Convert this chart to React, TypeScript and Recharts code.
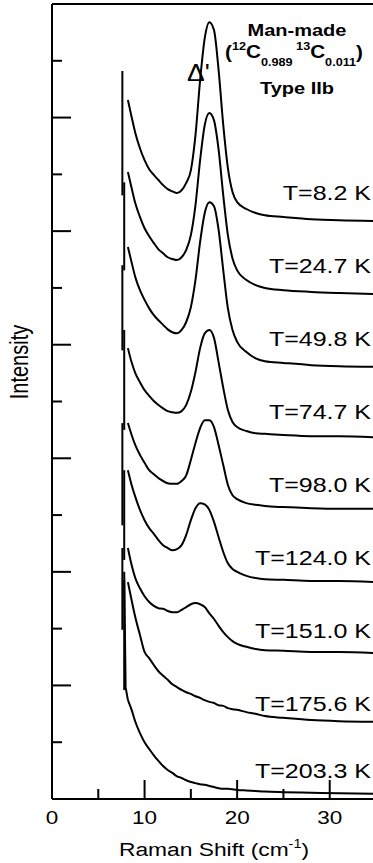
import { LineChart, Line, XAxis, YAxis, ReferenceLine } from "recharts";

// Raman shift grid (cm-1) shared by every spectrum
const ramanShift = [
  8.2, 8.6, 9.0, 9.5, 10, 10.5, 11, 11.5, 12, 12.5, 13, 13.5, 14, 14.5, 15, 15.5,
  16, 16.5, 17, 17.5, 18, 18.5, 19, 19.5, 20, 21, 22, 23, 25, 28, 31, 35,
];

// offset intensities
const spec8_2 = [12.31, 12.01, 11.73, 11.46, 11.25, 11.09, 10.99, 10.9, 10.81, 10.74, 10.7, 10.67, 10.72, 10.85, 11.07, 11.69, 12.66, 13.4, 13.68, 13.54, 12.83, 11.87, 11.11, 10.69, 10.51, 10.39, 10.32, 10.28, 10.25, 10.21, 10.19, 10.18];
const spec24_7 = [11.04, 10.76, 10.49, 10.25, 10.05, 9.91, 9.79, 9.68, 9.61, 9.54, 9.51, 9.49, 9.54, 9.67, 9.93, 10.46, 11.25, 11.87, 12.08, 11.95, 11.43, 10.63, 9.93, 9.52, 9.31, 9.14, 9.05, 9.0, 8.96, 8.93, 8.91, 8.89];
const spec49_8 = [9.72, 9.45, 9.19, 8.96, 8.79, 8.64, 8.52, 8.43, 8.35, 8.27, 8.22, 8.2, 8.26, 8.4, 8.66, 9.14, 9.81, 10.32, 10.51, 10.44, 10.02, 9.31, 8.64, 8.26, 8.05, 7.87, 7.76, 7.71, 7.68, 7.64, 7.62, 7.61];
const spec74_7 = [7.94, 7.69, 7.5, 7.34, 7.2, 7.1, 7.01, 6.94, 6.88, 6.83, 6.81, 6.8, 6.83, 6.94, 7.17, 7.52, 7.94, 8.2, 8.26, 8.12, 7.69, 7.24, 6.85, 6.64, 6.55, 6.48, 6.44, 6.43, 6.41, 6.39, 6.39, 6.37];
const spec98_0 = [6.62, 6.41, 6.23, 6.06, 5.92, 5.79, 5.72, 5.65, 5.6, 5.56, 5.55, 5.55, 5.6, 5.7, 5.97, 6.27, 6.53, 6.67, 6.67, 6.55, 6.23, 5.88, 5.53, 5.35, 5.28, 5.21, 5.18, 5.16, 5.14, 5.12, 5.11, 5.11];
const spec124_0 = [5.79, 5.53, 5.32, 5.09, 4.91, 4.77, 4.67, 4.56, 4.47, 4.42, 4.38, 4.4, 4.47, 4.65, 4.91, 5.12, 5.21, 5.19, 5.09, 4.88, 4.61, 4.35, 4.15, 4.05, 4.0, 3.93, 3.89, 3.87, 3.86, 3.84, 3.84, 3.82];
const spec151_0 = [4.42, 4.12, 3.89, 3.71, 3.57, 3.47, 3.4, 3.36, 3.35, 3.31, 3.29, 3.29, 3.33, 3.38, 3.43, 3.45, 3.43, 3.38, 3.27, 3.17, 3.05, 2.94, 2.85, 2.78, 2.73, 2.68, 2.64, 2.62, 2.61, 2.59, 2.59, 2.57];
const spec175_6 = [3.82, 3.5, 3.2, 2.89, 2.59, 2.48, 2.36, 2.25, 2.17, 2.1, 2.02, 1.97, 1.92, 1.88, 1.85, 1.81, 1.78, 1.74, 1.71, 1.69, 1.65, 1.64, 1.6, 1.58, 1.57, 1.53, 1.5, 1.46, 1.43, 1.39, 1.37, 1.36];
const spec203_3 = [1.74, 1.57, 1.36, 1.16, 1.0, 0.88, 0.77, 0.67, 0.58, 0.51, 0.46, 0.4, 0.37, 0.33, 0.3, 0.28, 0.26, 0.25, 0.23, 0.21, 0.19, 0.18, 0.18, 0.17, 0.16, 0.15, 0.14, 0.13, 0.12, 0.11, 0.1, 0.09];

const spectra = [spec8_2, spec24_7, spec49_8, spec74_7, spec98_0, spec124_0, spec151_0, spec175_6, spec203_3];
const tempLabels = ["T=8.2 K", "T=24.7 K", "T=49.8 K", "T=74.7 K", "T=98.0 K", "T=124.0 K", "T=151.0 K", "T=175.6 K", "T=203.3 K"];

// steep laser-edge part of each spectrum
const edgeShift = [
  [7.6, 7.6], [7.8, 7.8], [7.6, 7.6], [7.8, 7.8], [7.6, 7.6],
  [7.8, 7.8], [7.6, 7.6], [7.8, 7.8], [7.8, 7.95, 8.2],
];
const edgeIntensity = [
  [12.82, 10.63], [10.86, 9.31], [9.4, 7.9], [8.26, 6.5], [6.62, 4.82],
  [5.79, 4.21], [4.42, 2.98], [3.86, 1.92], [4.0, 1.97, 1.74],
];

const xTicks = [0, 5, 10, 15, 20, 25, 30, 35];
const yTicks = [0, 1, 2, 3, 4, 5, 6, 7, 8, 9, 10, 11, 12, 13, 14];

const FONT = "'Liberation Sans', Arial, Helvetica, sans-serif";
const labelBaselines = [200, 273, 346, 419, 492, 565, 638, 711, 778];

const XTick = (props: any) => {
  const { x, y, payload } = props;
  const major = payload.value % 10 === 0;
  return (
    <g>
      <line x1={x} x2={x} y1={y} y2={y - (major ? 19 : 10)} stroke="#000" strokeWidth={2} />
      {major && (
        <text transform={`translate(${x},${y + 25}) scale(1.25,1)`} textAnchor="middle" fontFamily={FONT} fontSize={18} fill="#000">
          {payload.value}
        </text>
      )}
    </g>
  );
};

const YTick = (props: any) => {
  const { x, y, payload } = props;
  if (payload.value === 0 || payload.value === 14) return <g />;
  const major = payload.value % 2 === 0;
  return <line x1={x} x2={x + (major ? 19 : 10)} y1={y} y2={y} stroke="#000" strokeWidth={2} />;
};

export default function App() {
  return (
    <div style={{ position: "absolute", left: 0, top: 0, width: 373, height: 863, background: "#fff" }}>
      <LineChart width={373} height={863} margin={{ top: 4, right: -3, left: 0, bottom: 0 }}>
        <XAxis
          dataKey="x"
          type="number"
          domain={[0, 35]}
          ticks={xTicks}
          height={64}
          tickSize={0}
          tickMargin={0}
          tickLine={false}
          axisLine={{ stroke: "#000", strokeWidth: 2 }}
          tick={(p: any) => <XTick {...p} />}
          interval={0}
        />
        <YAxis
          type="number"
          domain={[0, 14]}
          ticks={yTicks}
          width={52}
          tickSize={0}
          tickMargin={0}
          tickLine={false}
          axisLine={{ stroke: "#000", strokeWidth: 2 }}
          tick={(p: any) => <YTick {...p} />}
          interval={0}
        />
        <ReferenceLine y={14} stroke="#000" strokeWidth={2} />
        {edgeShift.map((xs, i) => (
          <Line
            key={`edge-${i}`}
            data={xs.map((x, j) => ({ x, y: edgeIntensity[i][j] }))}
            dataKey="y"
            type="linear"
            stroke="#000"
            strokeWidth={2}
            dot={false}
            isAnimationActive={false}
          />
        ))}
        {spectra.map((s, i) => (
          <Line
            key={tempLabels[i]}
            name={tempLabels[i]}
            data={ramanShift.map((x, j) => ({ x, y: s[j] }))}
            dataKey="y"
            type="monotone"
            stroke="#000"
            strokeWidth={2}
            dot={false}
            isAnimationActive={false}
          />
        ))}
      </LineChart>
      <svg width={373} height={863} style={{ position: "absolute", left: 0, top: 0, pointerEvents: "none" }}>
        <g fontFamily={FONT} fill="#000">
          {tempLabels.map((t, i) => (
            <text key={t} transform={`translate(371,${labelBaselines[i]}) scale(1.25,1)`} textAnchor="end" fontSize={20}>
              {t}
            </text>
          ))}
          <text transform="translate(214,856) scale(1.2,1)" textAnchor="middle" fontSize={19}>
            Raman Shift (cm<tspan fontSize={12} dy={-8}>-1</tspan><tspan dy={8}>)</tspan>
          </text>
          <text transform="translate(28,362) scale(1.25,1) rotate(-90)" textAnchor="middle" fontSize={20}>
            Intensity
          </text>
          <text transform="translate(187,81) scale(1.15,1)" fontSize={23}>
            Δ'
          </text>
          <text transform="translate(297,36) scale(1.25,1)" textAnchor="middle" fontSize={16} fontWeight="bold">
            Man-made
          </text>
          <text transform="translate(294,58) scale(1.15,1)" textAnchor="middle" fontWeight="bold" fontSize={18}>
            (<tspan fontSize={11} dy={-8}>12</tspan>
            <tspan dy={8}>C</tspan>
            <tspan fontSize={11} dy={8}>0.989</tspan>
            <tspan fontSize={11} dy={-16}> 13</tspan>
            <tspan dy={8}>C</tspan>
            <tspan fontSize={11} dy={8}>0.011</tspan>
            <tspan dy={-8}>)</tspan>
          </text>
          <text transform="translate(297,94) scale(1.25,1)" textAnchor="middle" fontSize={16} fontWeight="bold">
            Type IIb
          </text>
        </g>
      </svg>
    </div>
  );
}
